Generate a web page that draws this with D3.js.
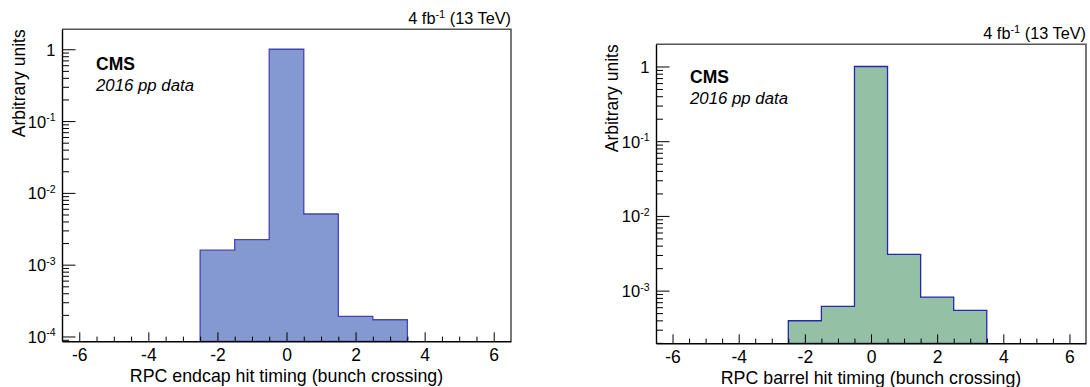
<!DOCTYPE html>
<html>
<head>
<meta charset="utf-8">
<script src="https://cdn.jsdelivr.net/npm/d3@7"></script>
<style>
  html, body { margin: 0; padding: 0; background: #fff; }
  svg { display: block; font-family: "Liberation Sans", Arial, Helvetica, sans-serif; }
</style>
</head>
<body>
<script>
// ---- data ----
const binCenters = [-2, -1, 0, 1, 2, 3];
const endcapValues = [1.59e-3, 2.23e-3, 1.0, 5.08e-3, 1.91e-4, 1.71e-4];
const barrelValues = [3.95e-4, 6.16e-4, 1.0, 3.06e-3, 8.2e-4, 5.45e-4];
const xMajorTicks = [-6, -4, -2, 0, 2, 4, 6];
const yTickExponents = [0, -1, -2, -3, -4];
const xTitles = ["RPC endcap hit timing (bunch crossing)", "RPC barrel hit timing (bunch crossing)"];
const yTitle = "Arbitrary units";
const cmsLabel = "CMS";
const subLabel = "2016 pp data";
const lumiMain = "4 fb";
const lumiSup = "-1";
const lumiTail = " (13 TeV)";

const svg = d3.select("body").append("svg").attr("width", 1090).attr("height", 387);

function drawPanel(p) {
  const x = d3.scaleLinear().domain([-6.5, 6.5]).range([p.left, p.right]);
  const y = d3.scaleLog().domain([p.yMin, p.yMax]).range([p.bottom, p.top]);
  const g = svg.append("g");

  // histogram (step outline closed to the axis)
  const line = d3.line().x(d => x(d[0])).y(d => d[1] === null ? p.bottom : y(d[1]));
  const path = [[binCenters[0] - 0.5, null]];
  binCenters.forEach((c, i) => {
    path.push([c - 0.5, p.values[i]]);
    path.push([c + 0.5, p.values[i]]);
  });
  path.push([binCenters[binCenters.length - 1] + 0.5, null]);
  g.append("path").attr("d", line(path) + "Z")
    .attr("fill", p.fill).attr("stroke", p.stroke).attr("stroke-width", 1.3);

  // frame top/right
  g.append("path")
    .attr("d", `M${p.left},${p.top}H${p.right}V${p.bottom}`)
    .attr("fill", "none").attr("stroke", "#555").attr("stroke-width", 1.6);

  // x axis: minor ticks
  const xMinor = d3.range(-6.5, 6.51, 0.5).filter(v => v % 2 !== 0 && v > -6.5 && v < 6.5);
  g.append("g").attr("transform", `translate(0,${p.bottom})`)
    .call(d3.axisBottom(x).tickValues(xMinor).tickSizeInner(-4.7).tickSizeOuter(0).tickFormat(""))
    .call(a => a.select(".domain").remove())
    .call(a => a.selectAll("line").attr("stroke", "#000"));
  const xa = g.append("g").attr("transform", `translate(0,${p.bottom})`)
    .call(d3.axisBottom(x).tickValues(xMajorTicks).tickSizeInner(-9).tickSizeOuter(0)
      .tickPadding(7.5).tickFormat(d => String(d)));
  xa.select(".domain").attr("stroke", "#000").attr("stroke-width", 1.4);
  xa.selectAll("text").attr("font-size", 17.5).attr("fill", "#000").attr("font-family", "Liberation Sans, Arial, sans-serif");

  // y axis: minor ticks (2..9 x 10^n)
  const yMinor = [];
  for (let e = -5; e <= 0; e++) for (let m = 2; m <= 9; m++) {
    const v = m * Math.pow(10, e);
    if (v >= p.yMin && v <= p.yMax) yMinor.push(v);
  }
  g.append("g").attr("transform", `translate(${p.left},0)`)
    .call(d3.axisLeft(y).tickValues(yMinor).tickSizeInner(-7).tickSizeOuter(0).tickFormat(""))
    .call(a => a.select(".domain").remove())
    .call(a => a.selectAll("line").attr("stroke", "#000"));
  const yMaj = yTickExponents.map(e => Math.pow(10, e)).filter(v => v >= p.yMin && v <= p.yMax);
  const ya = g.append("g").attr("transform", `translate(${p.left},0)`)
    .call(d3.axisLeft(y).tickValues(yMaj).tickSizeInner(-13.5).tickSizeOuter(0).tickFormat(""));
  ya.select(".domain").attr("stroke", "#000").attr("stroke-width", 1.4);

  // y tick labels with superscripts
  yMaj.forEach(v => {
    const e = Math.round(Math.log10(v));
    const t = g.append("text").attr("x", p.left - 6.5).attr("y", y(v) + 6.5)
      .attr("text-anchor", "end").attr("font-size", 16.5).attr("fill", "#000");
    if (e === 0) {
      t.text("1");
    } else {
      t.append("tspan").text("10");
      t.append("tspan").attr("font-size", 10.5).attr("dy", -6.5).text(String(e));
    }
  });

  // axis titles
  g.append("text").attr("x", (p.left + p.right) / 2).attr("y", p.bottom + 41)
    .attr("text-anchor", "middle").attr("font-size", 17.8).attr("fill", "#000").text(p.xTitle);
  g.append("text").attr("transform", `translate(${p.left - p.yTitleOff},${p.top}) rotate(-90)`)
    .attr("text-anchor", "end").attr("font-size", 17.5).attr("fill", "#000").text(yTitle);

  // CMS labels
  g.append("text").attr("x", p.left + 34).attr("y", p.cmsY)
    .attr("font-size", 17.5).attr("font-weight", "bold").attr("fill", "#000").text(cmsLabel);
  g.append("text").attr("x", p.left + 34).attr("y", p.cmsY + 20.5)
    .attr("font-size", 16.8).attr("font-style", "italic").attr("fill", "#000").text(subLabel);

  // lumi
  const lt = g.append("text").attr("x", p.right).attr("y", p.top - 5.5)
    .attr("text-anchor", "end").attr("font-size", 16.3).attr("fill", "#000");
  lt.append("tspan").text(lumiMain);
  lt.append("tspan").attr("font-size", 11).attr("dy", -6).text(lumiSup);
  lt.append("tspan").attr("dy", 6).text(lumiTail);
}

drawPanel({
  left: 62, right: 511, top: 29.3, bottom: 341.3,
  yMin: Math.pow(10, -4.067), yMax: Math.pow(10, 0.278),
  values: endcapValues, fill: "#8599d1", stroke: "#4444b6",
  xTitle: xTitles[0], cmsY: 70, yTitleOff: 37
});
drawPanel({
  left: 656, right: 1086, top: 44.3, bottom: 343.3,
  yMin: Math.pow(10, -3.705), yMax: Math.pow(10, 0.297),
  values: barrelValues, fill: "#94c1a6", stroke: "#2626b0",
  xTitle: xTitles[1], cmsY: 83, yTitleOff: 38
});
</script>
</body>
</html>
